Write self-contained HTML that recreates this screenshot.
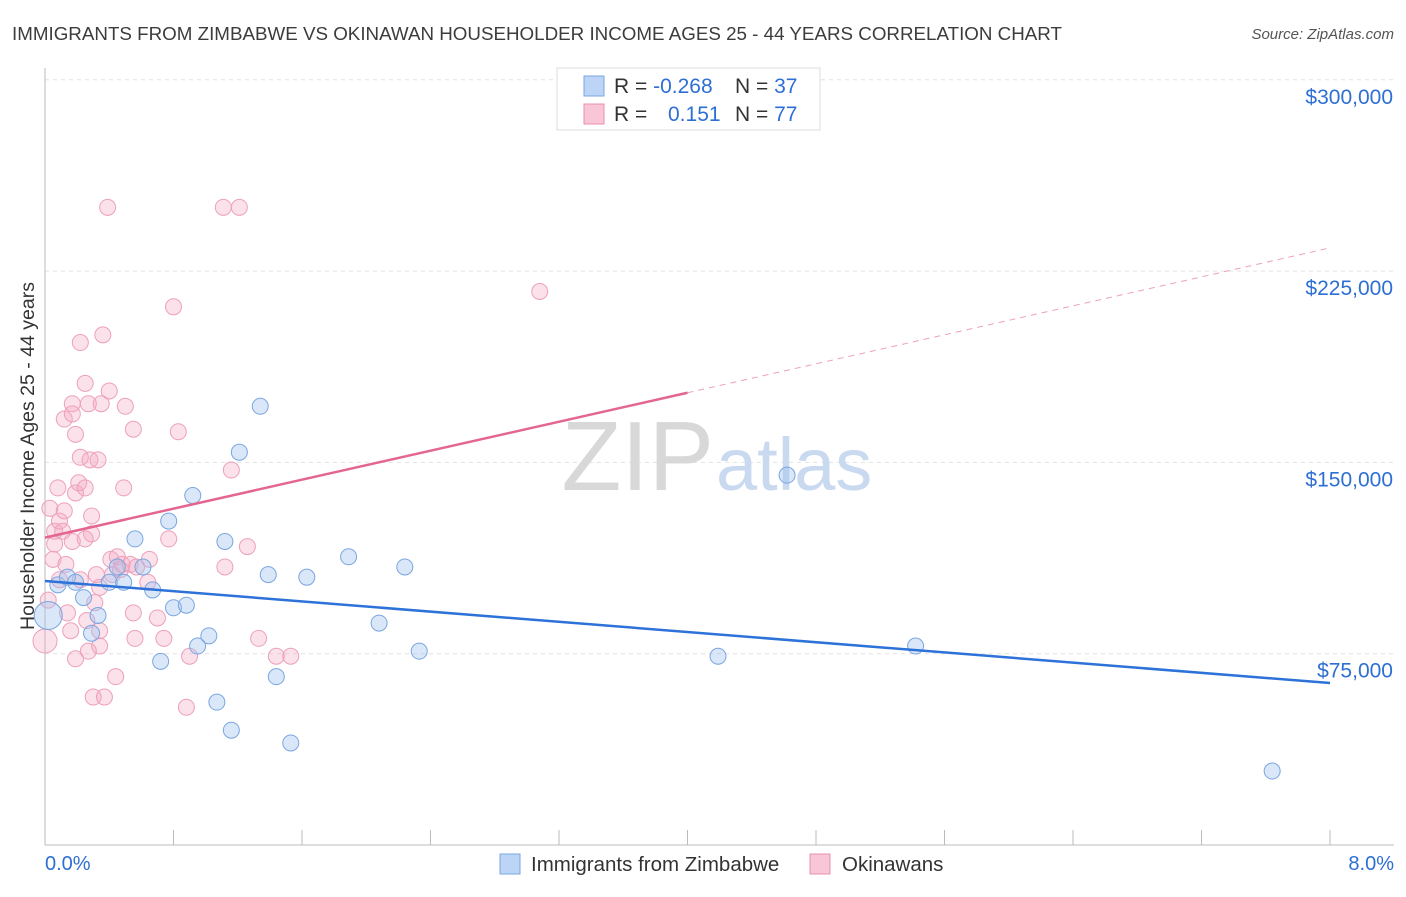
<!DOCTYPE html>
<html><head><meta charset="utf-8"><style>
body{margin:0;background:#fff;font-family:"Liberation Sans",sans-serif}
svg text{font-family:"Liberation Sans",sans-serif}
</style></head><body>
<svg id="chart" width="1406" height="892" viewBox="0 0 1406 892">
<text x="12" y="40" font-size="18.5" fill="#3c3c3c" textLength="1050" lengthAdjust="spacingAndGlyphs">IMMIGRANTS FROM ZIMBABWE VS OKINAWAN HOUSEHOLDER INCOME AGES 25 - 44 YEARS CORRELATION CHART</text>
<text x="1394" y="39" font-size="15" fill="#555" text-anchor="end" font-style="italic">Source: ZipAtlas.com</text>
<g id="grid"></g>
<text x="714" y="490" font-size="98" fill="#d8d8d8" text-anchor="end" font-family="Liberation Serif">ZIP</text>
<text x="716" y="490" font-size="74" fill="#c9d9ef">atlas</text>
<text transform="translate(34,456) rotate(-90)" font-size="19.5" fill="#333" text-anchor="middle">Householder Income Ages 25 - 44 years</text>
<g id="points"></g>
<g id="trends"></g>
<g>
<rect x="557" y="68" width="263" height="62" fill="#fff" stroke="#ddd"/>
<rect x="584" y="76" width="20" height="20" fill="#bcd4f5" stroke="#7aa6e0"/>
<rect x="584" y="104" width="20" height="20" fill="#f8c6d6" stroke="#e890b0"/>
<text x="614" y="93" font-size="21" fill="#333">R = <tspan fill="#2e6fd4">-0.268</tspan></text>
<text x="735" y="93" font-size="21" fill="#333">N = <tspan fill="#2e6fd4">37</tspan></text>
<text x="614" y="121" font-size="21" fill="#333">R = <tspan fill="#2e6fd4" x="668">0.151</tspan></text>
<text x="735" y="121" font-size="21" fill="#333">N = <tspan fill="#2e6fd4">77</tspan></text>
</g>
<g>
<rect x="500" y="854" width="20" height="20" fill="#bcd4f5" stroke="#7aa6e0"/>
<text x="531" y="871" font-size="20.5" fill="#333">Immigrants from Zimbabwe</text>
<rect x="810" y="854" width="20" height="20" fill="#f8c6d6" stroke="#e890b0"/>
<text x="842" y="871" font-size="20.5" fill="#333">Okinawans</text>
</g>
<text x="45" y="870" font-size="20" fill="#2e6fd4">0.0%</text>
<text x="1394" y="870" font-size="20" fill="#2e6fd4" text-anchor="end">8.0%</text>
</svg>
<script>
const yTicks=[75000,150000,225000,300000];
const yTickLabels=["$75,000","$150,000","$225,000","$300,000"];
const xTicks=[0,0.8,1.6,2.4,3.2,4,4.8,5.6,6.4,7.2,8];
const blueX=[0.02,0.08,0.14,0.19,0.24,0.29,0.33,0.40,0.45,0.49,0.56,0.61,0.67,0.72,0.77,0.80,0.88,0.92,0.95,1.02,1.07,1.12,1.16,1.21,1.34,1.39,1.44,1.53,1.63,1.89,2.08,2.24,2.33,4.19,4.62,5.42,7.64];
const blueY=[90,102,105,103,97,83,90,103,109,103,120,109,100,72,127,93,94,137,78,82,56,119,45,154,172,106,66,40,105,113,87,109,76,74,145,78,29];
const pinkX=[0.00,0.02,0.03,0.05,0.06,0.06,0.08,0.09,0.11,0.12,0.12,0.13,0.16,0.17,0.17,0.17,0.19,0.19,0.19,0.21,0.22,0.22,0.22,0.25,0.25,0.26,0.27,0.27,0.28,0.29,0.29,0.30,0.31,0.32,0.33,0.34,0.34,0.35,0.36,0.37,0.39,0.40,0.41,0.42,0.44,0.45,0.47,0.48,0.49,0.50,0.53,0.55,0.55,0.56,0.57,0.64,0.70,0.74,0.77,0.80,0.83,0.88,0.90,1.11,1.12,1.16,1.21,1.26,1.33,1.44,1.53,3.08,0.09,0.14,0.25,0.34,0.65];
const pinkY=[80,96,132,112,123,118,140,127,123,131,167,110,84,119,173,169,73,138,161,142,104,152,197,140,181,88,173,76,151,129,122,58,95,106,151,78,84,173,200,58,250,178,112,106,66,113,108,110,140,172,110,163,91,81,109,103,89,81,120,211,162,54,74,250,109,147,250,117,81,74,74,217,104,91,120,101,112];
const blueTrend=[103.5,-5.0];
const pinkTrend=[120.5,14.2];
const X=v=>45+v/8*1285;
const Y=v=>845-v/75000*191.3;
const NS="http://www.w3.org/2000/svg";
function mk(tag,attrs,parent){const e=document.createElementNS(NS,tag);for(const k in attrs)e.setAttribute(k,attrs[k]);parent.appendChild(e);return e;}
const grid=document.getElementById('grid');
yTicks.forEach((t,i)=>{
 const l=mk('line',{x1:45,x2:1394,y1:Y(t),y2:Y(t),stroke:'#e2e2e2','stroke-dasharray':'4,4'},grid);
 
 
 const tx=mk('text',{x:1393,y:Y(t)+24,'font-size':21,fill:'#2e6fd4','text-anchor':'end'},grid);
 tx.textContent=yTickLabels[i];
 
 
});
const ya=mk('line',{x1:45,x2:45,y1:68,y2:845,stroke:'#bbb'},grid);


const xa=mk('line',{x1:45,x2:1394,y1:845,y2:845,stroke:'#bbb'},grid);


xTicks.forEach(t=>{
 const l=mk('line',{x1:X(t),x2:X(t),y1:830,y2:845,stroke:'#bbb'},grid);
 
 
});
const pts=document.getElementById('points');
pinkX.forEach((x,i)=>{
 const c=mk('circle',{cx:X(x),cy:Y(pinkY[i]*1000),r:(i===0?12:8),fill:'rgba(244,170,196,0.35)',stroke:'#eda0bb','stroke-width':1},pts);
 
 
});
blueX.forEach((x,i)=>{
 const c=mk('circle',{cx:X(x),cy:Y(blueY[i]*1000),r:(i===0?14:8),fill:'rgba(160,196,240,0.4)',stroke:'#7aa6e0','stroke-width':1},pts);
 
 
});
const tr=document.getElementById('trends');
const bt=v=>(blueTrend[0]+blueTrend[1]*v)*1000, pt=v=>(pinkTrend[0]+pinkTrend[1]*v)*1000;
const b=mk('line',{x1:X(0),y1:Y(bt(0)),x2:X(8),y2:Y(bt(8)),stroke:'#2d72d9','stroke-width':2.5},tr);


const p1=mk('line',{x1:X(0),y1:Y(pt(0)),x2:X(4),y2:Y(pt(4)),stroke:'#e4668f','stroke-width':2.5},tr);


const p2=mk('line',{x1:X(4),y1:Y(pt(4)),x2:X(8),y2:Y(pt(8)),stroke:'#eda0bb','stroke-width':1,'stroke-dasharray':'6,5'},tr);


</script>
</body></html>
